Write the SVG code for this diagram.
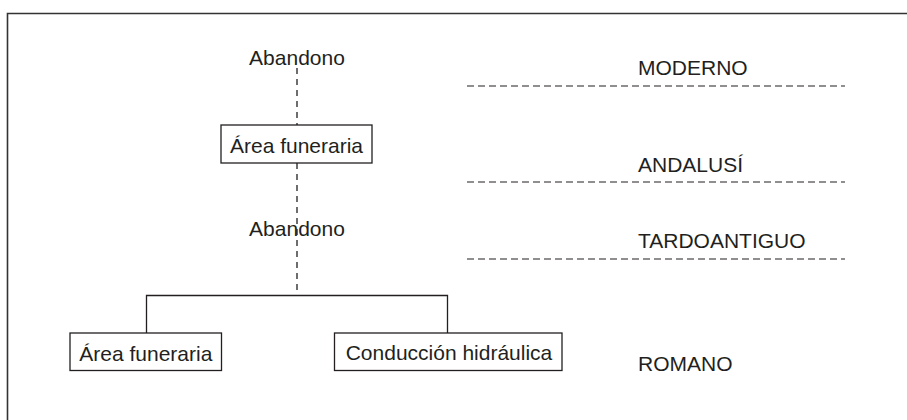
<svg xmlns="http://www.w3.org/2000/svg" width="907" height="420" viewBox="0 0 907 420">
<style>
text{font-family:"Liberation Sans",Arial,sans-serif;font-size:21px;fill:#231f20}
.box{fill:#fff;stroke:#231f20;stroke-width:1.3}
.solid{fill:none;stroke:#231f20;stroke-width:1.3}
.vdash{fill:none;stroke:#231f20;stroke-width:1.3;stroke-dasharray:6 5}
.hdash{fill:none;stroke:#231f20;stroke-width:1.2;stroke-dasharray:7 4}
</style>
<rect width="907" height="420" fill="#fff"/>
<path d="M7.5 420V13.5H907" fill="none" stroke="#333" stroke-width="1.6"/>
<g id="connectors">
<line class="vdash" x1="297" y1="68" x2="297" y2="125"/>
<line class="vdash" x1="297" y1="163" x2="297" y2="295"/>
<path class="solid" d="M146.5 333V295.5H447.5V333"/>
</g>
<g id="periods">
<line class="hdash" x1="467" y1="86" x2="845" y2="86"/>
<line class="hdash" x1="467" y1="182" x2="845" y2="182"/>
<line class="hdash" x1="467" y1="259" x2="845" y2="259"/>
<text x="638" y="75">MODERNO</text>
<text x="638" y="171.5">ANDALUSÍ</text>
<text x="638" y="248">TARDOANTIGUO</text>
<text x="638" y="371">ROMANO</text>
</g>
<g id="abandono1"><text x="297" y="65" text-anchor="middle">Abandono</text></g>
<g id="area-top">
<rect class="box" x="221" y="125" width="151" height="38"/>
<text x="296.5" y="153.3" text-anchor="middle">Área funeraria</text>
</g>
<g id="abandono2"><text x="297" y="236" text-anchor="middle">Abandono</text></g>
<g id="area-bottom">
<rect class="box" x="70" y="333" width="151.5" height="37.5"/>
<text x="145.8" y="361" text-anchor="middle">Área funeraria</text>
</g>
<g id="conduccion">
<rect class="box" x="334.5" y="333" width="227.5" height="37.5"/>
<text x="449" y="359.5" text-anchor="middle">Conducción hidráulica</text>
</g>
</svg>
